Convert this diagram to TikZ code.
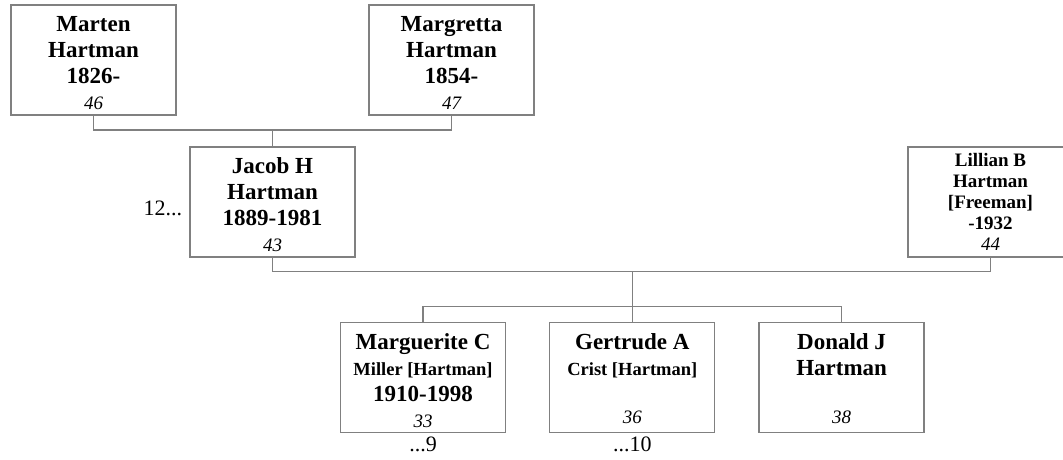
\documentclass[tikz,border=0pt]{standalone}
\usepackage{fontspec}
\setmainfont{Liberation Serif}
\usetikzlibrary{positioning}

\definecolor{linegray}{RGB}{128,128,128}

% text of one card: name lines on top, number at the foot
\newcommand{\famcard}[3][7pt]{%
  \parbox[c][102pt][t]{160pt}{\centering\fontsize{23}{26}\selectfont\bfseries
    \vspace*{#1}#2\par\vfill
    {\fontsize{19}{20}\selectfont\mdseries\itshape #3}\par\vspace*{5pt}}}
\newcommand{\smallname}{\fontsize{18.5}{21}\selectfont}

\begin{document}
\begin{tikzpicture}[
        x = 1pt, y = -1pt, % pixel grid, y downwards
        person/.style = {
            draw = linegray,
            line width = 1.3pt,
            inner xsep = 2.5pt,
            inner ysep = 4pt,
            minimum width = 165pt,
            minimum height = 110pt
        },
        link/.style = {draw = linegray, line width = 1.3pt},
        more/.style = {font = \fontsize{22}{24}\selectfont, inner sep = 1pt},
        node distance = 43pt
    ]

    \useasboundingbox (0,0) rectangle (1063,460);

    % parents
    \node[person] (marten) at (93.5,60) {\famcard{Marten\\Hartman\\1826-}{46}};
    \node[person] (margretta) at (451.5,60) {\famcard{Margretta\\Hartman\\1854-}{47}};

    % couple
    \node[person] (jacob) at (272.5,202) {\famcard{Jacob H\\Hartman\\1889-1981}{43}};
    \node[person] (lillian) at (990.5,202)
        {\famcard[2pt]{\fontsize{19}{21}\selectfont Lillian B\\Hartman\\{}[Freeman]\\-1932}{44}};

    % children
    \node[person] (marguerite) at (423,377.5)
        {\famcard{Marguerite C\\{\smallname Miller [Hartman]}\\1910-1998}{33}};
    \node[person] (gertrude) [right=of marguerite]
        {\famcard{Gertrude A\\{\smallname Crist [Hartman]}}{36}};
    \node[person] (donald) [right=of gertrude] {\famcard{Donald J\\Hartman}{38}};

    % continuation marks
    \node[more] (jacobmore) [left=6pt of jacob, yshift=-6pt] {12...};
    \node[more] (margueritemore) [below=3pt of marguerite] {...9};
    \node[more] (gertrudemore) [below=3pt of gertrude] {...10};

    % connectors
    \coordinate (parents) at (272.5,130);
    \coordinate (kids) at ([yshift=15.5pt]gertrude.north);
    \coordinate (couple) at ([yshift=35pt]kids);

    \path[link] (marten.south) |- (parents) -| (margretta.south);
    \path[link] (parents) -- (jacob.north);
    \path[link] (jacob.south) |- (couple) -| (lillian.south);
    \path[link] (couple) -- (kids);
    \path[link] (marguerite.north) |- (kids) -| (donald.north);
    \path[link] (kids) -- (gertrude.north);
\end{tikzpicture}
\end{document}
